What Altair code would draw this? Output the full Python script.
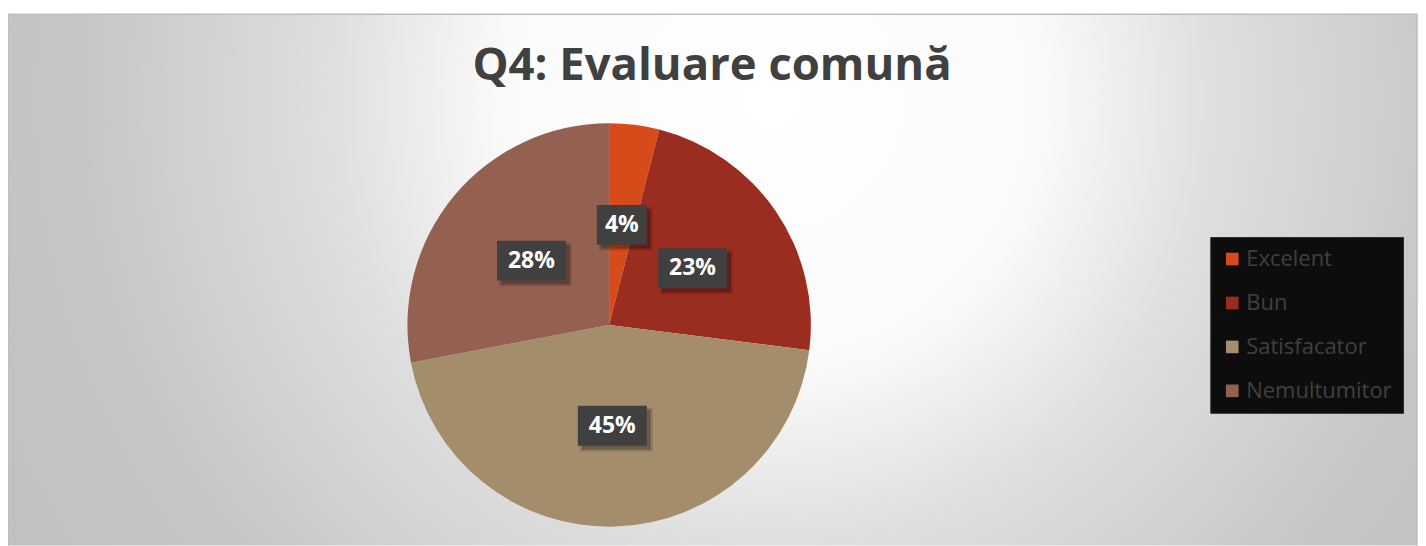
import altair as alt
import pandas as pd

# ---- data ----
categories = ["Excelent", "Bun", "Satisfacator", "Nemultumitor"]
values = [4, 23, 45, 28]
labels = ["4%", "23%", "45%", "28%"]
colors = ["#D64B19", "#9B2C20", "#A48D6B", "#946150"]
title_text = "Q4: Evaluare comună"

df = pd.DataFrame({"category": categories, "value": values, "label": labels,
                   "idx": list(range(len(categories)))})

# ---- layout constants ----
W, H = 1412, 538
CX, CY, R = 602, 317, 202
LR = 101
FONT = "Open Sans"

bg = alt.Chart(pd.DataFrame({"a": [0]})).mark_rect(
    clip=True,
    color={
        "gradient": "radial",
        "x1": 0.54, "y1": 0.057, "r1": 0,
        "x2": 0.54, "y2": 0.057, "r2": 0.6,
        "stops": [
            {"offset": 0, "color": "#ffffff"},
            {"offset": 0.3, "color": "#fafafa"},
            {"offset": 0.5, "color": "#dedede"},
            {"offset": 0.77, "color": "#c6c6c6"},
            {"offset": 1, "color": "#c0c0c0"},
        ],
    },
    stroke="#bdbdbd",
    strokeWidth=1.5,
).encode(
    x=alt.value(0), x2=alt.value(1411), y=alt.value(6), y2=alt.value(1506)
)

title = alt.Chart(pd.DataFrame({"t": [title_text]})).mark_text(
    font=FONT, fontSize=45.5, fontWeight="bold", color="#404040",
    align="center", baseline="alphabetic",
).encode(text="t:N", x=alt.value(705), y=alt.value(72))

pie = alt.Chart(df).mark_arc(radius=R).encode(
    theta=alt.Theta("value:Q", stack=True),
    color=alt.Color(
        "category:N",
        scale=alt.Scale(domain=categories, range=colors),
        sort=categories,
        legend=alt.Legend(
            title=None, orient="none", legendX=1204, legendY=229,
            fillColor="#0d0d0d", strokeColor="#2a2a2a", padding=11,
            labelFont=FONT, labelFontSize=22, labelColor="#404040",
            symbolType="square", symbolSize=160, symbolStrokeWidth=0,
            symbolOpacity=1, labelOffset=3, rowPadding=22,
        ),
    ),
    order=alt.Order("idx:Q"),
    x=alt.value(CX), y=alt.value(CY),
)

lab = alt.Chart(df).transform_joinaggregate(
    total="sum(value)"
).transform_window(
    cum="sum(value)", sort=[alt.SortField("idx")]
).transform_calculate(
    mid="(datum.cum - datum.value/2)/datum.total*2*PI",
    lx=f"{CX} + {LR}*sin(datum.mid)",
    ly=f"{CY} - {LR}*cos(datum.mid)",
    hw="(length(datum.label)*19+12)/2",
    bx1="datum.lx - datum.hw", bx2="datum.lx + datum.hw",
    by1="datum.ly - 20", by2="datum.ly + 20",
    sx1="datum.bx1 + 4", sx2="datum.bx2 + 4",
    sy1="datum.by1 + 4", sy2="datum.by2 + 4",
    tx1="datum.bx1 + 2", tx2="datum.bx2 + 6",
    ty1="datum.by1 + 2", ty2="datum.by2 + 6",
)

shadow2 = lab.mark_rect(color="#000000", opacity=0.12).encode(
    x=alt.X("tx1:Q", scale=None, axis=None), x2="tx2:Q",
    y=alt.Y("ty1:Q", scale=None, axis=None), y2="ty2:Q",
)
shadow = lab.mark_rect(color="#000000", opacity=0.25).encode(
    x=alt.X("sx1:Q", scale=None, axis=None), x2="sx2:Q",
    y=alt.Y("sy1:Q", scale=None, axis=None), y2="sy2:Q",
)
box = lab.mark_rect(color="#404040").encode(
    x=alt.X("bx1:Q", scale=None, axis=None), x2="bx2:Q",
    y=alt.Y("by1:Q", scale=None, axis=None), y2="by2:Q",
)
txt = lab.mark_text(font=FONT, fontSize=23, fontWeight="bold", color="#ffffff",
                    align="center", baseline="middle").encode(
    x=alt.X("lx:Q", scale=None, axis=None),
    y=alt.Y("ly:Q", scale=None, axis=None),
    text="label:N",
)

chart = alt.layer(bg, title, pie, shadow2, shadow, box, txt).resolve_scale(
    x="independent", y="independent"
).properties(
    width=W, height=H, padding=0, autosize=alt.AutoSizeParams(type="none"),
    background="#ffffff",
).configure_view(stroke=None)

chart.save("out.html", embed_options={"renderer": "svg", "actions": False})
